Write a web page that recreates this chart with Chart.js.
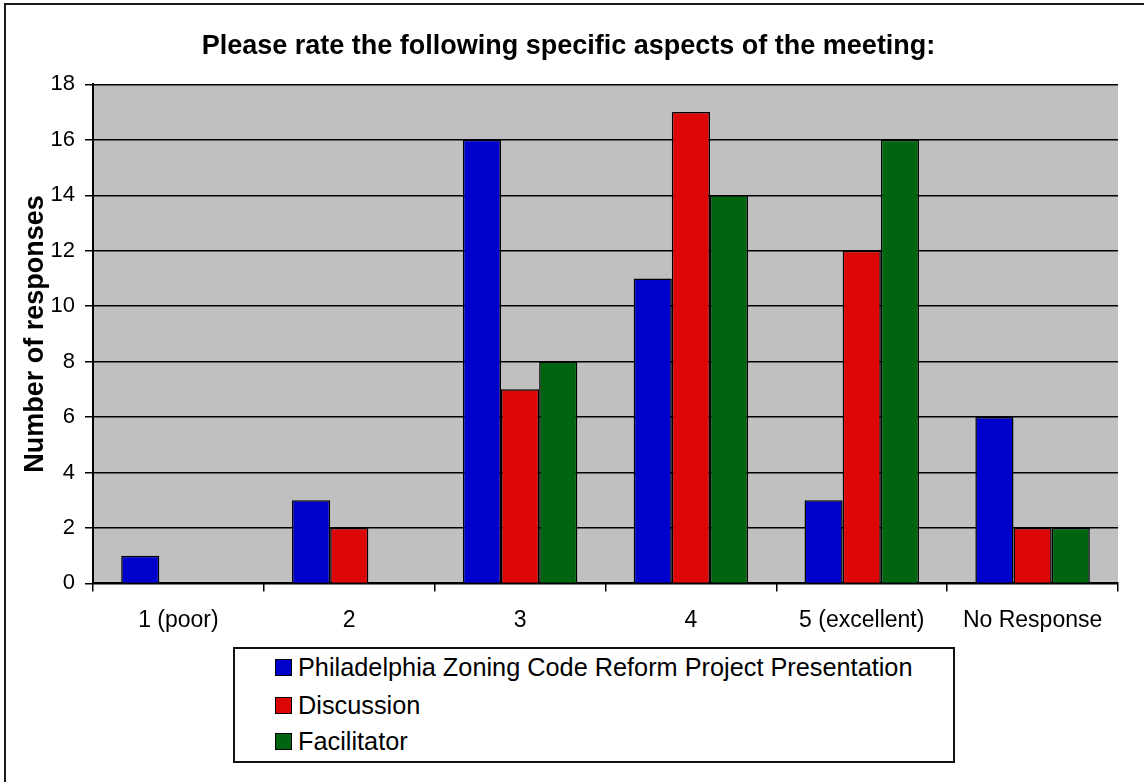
<!DOCTYPE html>
<html lang="en">
<head>
    <meta charset="UTF-8">
    <title>Meeting aspects rating</title>
    <script src="https://cdn.jsdelivr.net/npm/chart.js"></script>
    <style>
        html, body { margin: 0; background: #fff; overflow: hidden; font-family: "Liberation Sans", Arial, sans-serif; }
        #wrap { position: relative; width: 1144px; height: 782px; overflow: hidden; }
        #chartBox { position: absolute; left: 0; top: 0; width: 1144px; height: 782px; }
        #legend { position: absolute; left: 233px; top: 647px; width: 718px; height: 112px;
                  border: 2px solid #111; background: #fff; }
        #legend div { position: absolute; left: 40px; font-size: 25.3px; line-height: 26px; color: #000; white-space: nowrap; }
        #legend span { display: inline-block; width: 15px; height: 15px; border: 1px solid #000;
                       margin-right: 6px; vertical-align: 0px; }
    </style>
</head>
<body>
<div id="wrap">
    <div id="chartBox"><canvas id="ratingChart"></canvas></div>
    <div id="legend"></div>
</div>

<script>
    // data
    const categories = ['1 (poor)', '2', '3', '4', '5 (excellent)', 'No Response'];
    const seriesNames = ['Philadelphia Zoning Code Reform Project Presentation', 'Discussion', 'Facilitator'];
    const presentation = [1, 3, 16, 11, 3, 6];
    const discussion = [0, 2, 7, 17, 12, 2];
    const facilitator = [0, 0, 8, 14, 16, 2];
    const seriesColors = ['#0000cc', '#dd0606', '#006411'];

    const FONT = '"Liberation Sans", Arial, sans-serif';

    // grey plot background + the cut-off outer frame (top and left edges only)
    const plotBg = {
        id: 'plotBg',
        beforeDraw(chart) {
            const { ctx, chartArea: a } = chart;
            ctx.save();
            ctx.fillStyle = '#c0c0c0';
            ctx.fillRect(a.left, a.top, a.right - a.left, a.bottom - a.top);
            ctx.strokeStyle = '#1a1a1a';
            ctx.lineWidth = 2;
            ctx.beginPath();
            ctx.moveTo(5, chart.height);
            ctx.lineTo(5, 4);
            ctx.lineTo(chart.width, 4);
            ctx.stroke();
            ctx.restore();
        }
    };

    const seriesValues = [presentation, discussion, facilitator];

    const chart = new Chart(document.getElementById('ratingChart'), {
        type: 'bar',
        data: {
            labels: categories,
            datasets: seriesNames.map((name, i) => ({
                label: name,
                data: seriesValues[i],
                backgroundColor: seriesColors[i],
                borderColor: '#000',
                borderWidth: 1.5,
                categoryPercentage: 0.67,
                barPercentage: 1
            }))
        },
        options: {
            responsive: true,
            maintainAspectRatio: false,
            animation: false,
            layout: { padding: { left: 19, right: 26, top: 11, bottom: 133 } },
            plugins: {
                legend: { display: false },
                tooltip: { enabled: false },
                title: {
                    display: true,
                    text: 'Please rate the following specific aspects of the meeting:',
                    color: '#000',
                    font: { family: FONT, size: 27, weight: 'bold' },
                    padding: { top: 19, bottom: 22 }
                }
            },
            scales: {
                x: {
                    grid: { drawOnChartArea: false, color: '#000', tickLength: 8, lineWidth: 1.5 },
                    border: { color: '#000', width: 2 },
                    ticks: { color: '#000', font: { family: FONT, size: 23 }, padding: 15, maxRotation: 0 }
                },
                y: {
                    min: 0,
                    max: 18,
                    ticks: { stepSize: 2, color: '#000', font: { family: FONT, size: 22 }, padding: 10 },
                    grid: { color: '#000', lineWidth: 1.5, tickLength: 8 },
                    border: { color: '#000', width: 2 },
                    title: {
                        display: true,
                        text: 'Number of responses',
                        color: '#000',
                        font: { family: FONT, size: 27, weight: 'bold' },
                        padding: { top: 0, bottom: 6 }
                    },
                    afterFit(scale) { scale.width = 74; }
                }
            }
        },
        plugins: [plotBg]
    });

    // boxed legend stacked vertically, like the original
    const legendEl = document.getElementById('legend');
    const rowTops = [5, 43, 79];
    chart.options.plugins.legend.labels.generateLabels(chart).forEach((item, i) => {
        const row = document.createElement('div');
        row.style.top = rowTops[i] + 'px';
        row.innerHTML = '<span style="background:' + item.fillStyle + '"></span>' + item.text;
        legendEl.appendChild(row);
    });
</script>
</body>
</html>
